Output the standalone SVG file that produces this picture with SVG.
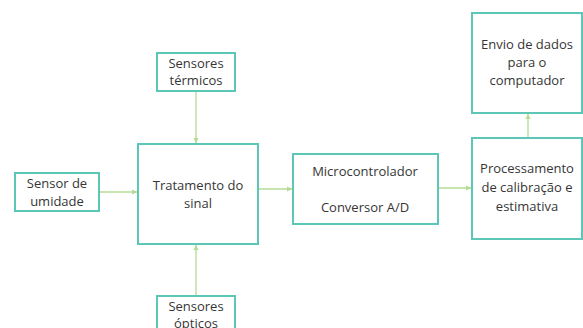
<svg xmlns="http://www.w3.org/2000/svg" width="583" height="328" viewBox="0 0 583 328">
  <style>
    .box { fill: #ffffff; stroke: #5cc6b7; stroke-width: 2; }
    .lbl { font-family: "Open Sans", "Noto Sans", sans-serif; font-size: 13px; fill: #363636; text-anchor: middle; }
    .wire { stroke: #b5dc92; stroke-width: 1.3; fill: none; marker-end: url(#head); }
  </style>
  <defs>
    <marker id="head" viewBox="0 0 8 8" refX="7" refY="4" markerWidth="6" markerHeight="6" markerUnits="userSpaceOnUse" orient="auto">
      <path d="M0,0.5 L7.5,4 L0,7.5 Z" fill="#b5dc92"/>
    </marker>
  </defs>
  <rect width="583" height="328" fill="#ffffff"/>

  <g id="connectors">
    <line class="wire" x1="196" y1="91" x2="196" y2="143"/>
    <line class="wire" x1="99" y1="192" x2="137" y2="192"/>
    <line class="wire" x1="196" y1="296" x2="196" y2="245"/>
    <line class="wire" x1="258" y1="189" x2="292" y2="189"/>
    <line class="wire" x1="438" y1="188" x2="471" y2="188"/>
    <line class="wire" x1="528" y1="138" x2="528" y2="114"/>
  </g>

  <g id="sensores-termicos">
    <rect class="box" x="157" y="53" width="78" height="38"/>
    <text class="lbl" x="196" y="68">Sensores</text>
    <text class="lbl" x="196" y="85">térmicos</text>
  </g>

  <g id="sensor-umidade">
    <rect class="box" x="15" y="173" width="84" height="38"/>
    <text class="lbl" x="57" y="188">Sensor de</text>
    <text class="lbl" x="57" y="206">umidade</text>
  </g>

  <g id="tratamento">
    <rect class="box" x="138" y="144" width="120" height="100"/>
    <text class="lbl" x="198" y="190">Tratamento do</text>
    <text class="lbl" x="198" y="208">sinal</text>
  </g>

  <g id="sensores-opticos">
    <rect class="box" x="157" y="296" width="78" height="40"/>
    <text class="lbl" x="196" y="311">Sensores</text>
    <text class="lbl" x="196" y="328">ópticos</text>
  </g>

  <g id="microcontrolador">
    <rect class="box" x="293" y="154" width="145" height="70"/>
    <text class="lbl" x="365" y="176">Microcontrolador</text>
    <text class="lbl" x="365" y="212">Conversor A/D</text>
  </g>

  <g id="processamento">
    <rect class="box" x="472" y="138" width="110" height="101"/>
    <text class="lbl" x="527" y="173">Processamento</text>
    <text class="lbl" x="527" y="192">de calibração e</text>
    <text class="lbl" x="527" y="211">estimativa</text>
  </g>

  <g id="envio">
    <rect class="box" x="472" y="13" width="110" height="100"/>
    <text class="lbl" x="527" y="49">Envio de dados</text>
    <text class="lbl" x="527" y="67">para o</text>
    <text class="lbl" x="527" y="85">computador</text>
  </g>
</svg>
